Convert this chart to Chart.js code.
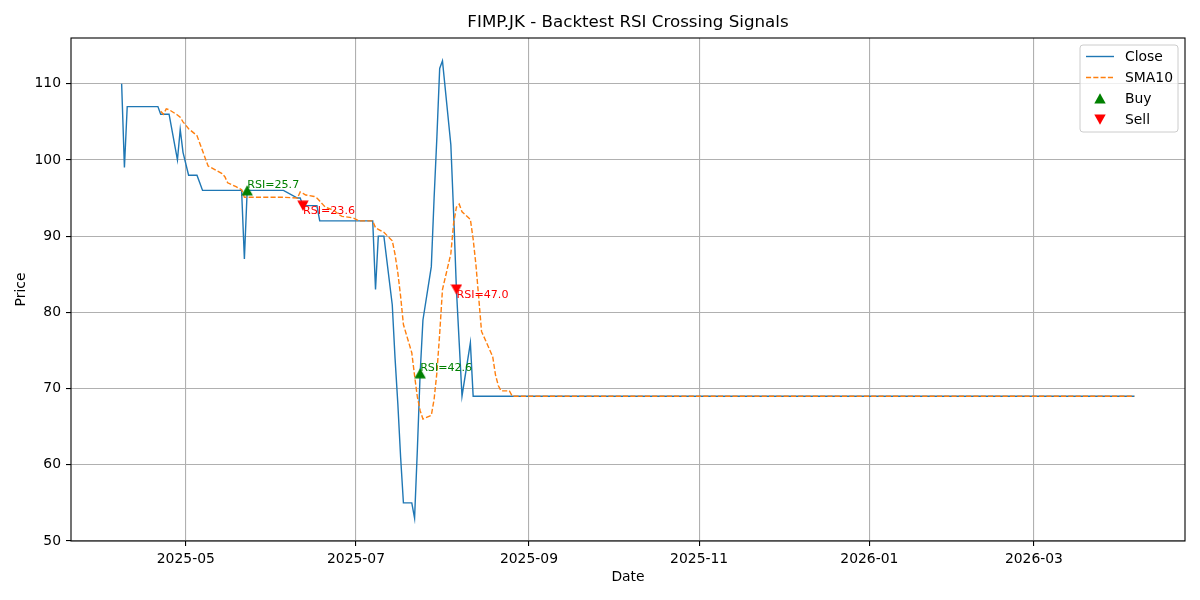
<!DOCTYPE html>
<html lang="en">
<head>
<meta charset="UTF-8">
<title>FIMP.JK - Backtest RSI Crossing Signals</title>
<script src="https://cdn.jsdelivr.net/npm/chart.js"></script>
<style>
  html, body { margin: 0; padding: 0; background: #fff; }
  #wrap { width: 1200px; height: 600px; }
</style>
</head>
<body>
<div id="wrap"><canvas id="rsiChart" width="1200" height="600"></canvas></div>
<script>
// trading days (flat at 69 after late August up to the last bar)
const dates = [
  '2025-04-08','2025-04-09','2025-04-10','2025-04-11','2025-04-14','2025-04-15','2025-04-16','2025-04-17',
  '2025-04-21','2025-04-22','2025-04-23','2025-04-24','2025-04-25','2025-04-28','2025-04-29','2025-04-30',
  '2025-05-02','2025-05-05','2025-05-06','2025-05-07','2025-05-08','2025-05-09','2025-05-14','2025-05-15',
  '2025-05-16','2025-05-19','2025-05-20','2025-05-21','2025-05-22','2025-05-23','2025-05-26','2025-05-27',
  '2025-05-28','2025-06-02','2025-06-03','2025-06-04','2025-06-05','2025-06-10','2025-06-11','2025-06-12',
  '2025-06-13','2025-06-16','2025-06-17','2025-06-18','2025-06-19','2025-06-20','2025-06-23','2025-06-24',
  '2025-06-25','2025-06-26','2025-06-30','2025-07-01','2025-07-02','2025-07-03','2025-07-04','2025-07-07',
  '2025-07-08','2025-07-09','2025-07-10','2025-07-11','2025-07-14','2025-07-15','2025-07-16','2025-07-17',
  '2025-07-18','2025-07-21','2025-07-22','2025-07-23','2025-07-24','2025-07-25','2025-07-28','2025-07-29',
  '2025-07-30','2025-07-31','2025-08-01','2025-08-04','2025-08-05','2025-08-06','2025-08-07','2025-08-08',
  '2025-08-11','2025-08-12','2025-08-13','2025-08-14','2025-08-15','2025-08-19','2025-08-20','2025-08-21',
  '2025-08-22','2025-08-25','2025-08-26','2025-08-27','2025-08-28','2025-08-29','2026-04-06'
];
const closePrices = [
  110, 99, 107, 107, 107, 107, 107, 107, 107, 106, 106, 106, 106, 100, 104, 101,
  98, 98, 97, 96, 96, 96, 96, 96, 96, 96, 96, 96, 87, 96, 96, 96,
  96, 96, 96, 96, 96, 95, 95, 94, 94, 94, 94, 92, 92, 92, 92, 92,
  92, 92, 92, 92, 92, 92, 92, 92, 83, 90, 90, 90, 81, 74, 68, 61,
  55, 55, 53, 62, 72, 79, 86, 95, 103, 112, 113, 102, 93, 83, 76, 69,
  76, 69, 69, 69, 69, 69, 69, 69, 69, 69, 69, 69, 69, 69, 69
];
const sma10 = [
  null, null, null, null, null, null, null, null, null, 106.4, 106.0, 106.7, 106.6, 105.9, 105.6, 105.0,
  104.1, 103.2, 102.2, 101.2, 100.2, 99.2, 98.2, 97.8, 97.0, 96.5, 96.3, 96.1, 95.1, 95.1, 95.1, 95.1,
  95.1, 95.1, 95.1, 95.1, 95.1, 95.0, 95.8, 95.6, 95.4, 95.2, 95.0, 94.6, 94.2, 93.8, 93.4, 93.1,
  92.8, 92.6, 92.4, 92.2, 92.0, 92.0, 92.0, 92.0, 91.1, 90.9, 90.7, 90.5, 89.4, 87.6, 85.2, 82.1,
  78.4, 74.7, 71.7, 68.9, 67.1, 66.0, 66.5, 68.6, 72.1, 77.2, 83.0, 87.7, 91.7, 93.8, 94.2, 93.2,
  92.2, 89.6, 86.2, 81.9, 77.5, 74.2, 71.8, 70.4, 69.7, 69.7, 69.0, 69.0, 69.0, 69.0, 69.0
];

const buyDates = ['2025-05-23', '2025-07-24'];
const buyPrices = [96, 72];
const buyRsi = [25.7, 42.6];

const sellDates = ['2025-06-12', '2025-08-06'];
const sellPrices = [94, 83];
const sellRsi = [23.6, 47.0];

const xTickDates = ['2025-05-01', '2025-07-01', '2025-09-01', '2025-11-01', '2026-01-01', '2026-03-01'];
const yTicks = [50, 60, 70, 80, 90, 100, 110];

const FONT = '"DejaVu Sans", "Liberation Sans", sans-serif';

function toDay(s) {
  return Date.UTC(+s.slice(0, 4), +s.slice(5, 7) - 1, +s.slice(8, 10)) / 86400000;
}
function dayLabel(v) {
  const d = new Date(Math.round(v) * 86400000);
  return d.getUTCFullYear() + '-' + String(d.getUTCMonth() + 1).padStart(2, '0');
}

// matplotlib style margins (5%) on the x axis
const xFirst = toDay(dates[0]);
const xLast = toDay(dates[dates.length - 1]);
const xPad = (xLast - xFirst) * 0.05;

function triangleMarker(color, up) {
  const c = document.createElement('canvas');
  c.width = 12; c.height = 11;
  const g = c.getContext('2d');
  g.fillStyle = color;
  g.beginPath();
  if (up) {
    g.moveTo(6, 0.3); g.lineTo(11.7, 10.5); g.lineTo(0.3, 10.5);
  } else {
    g.moveTo(0.3, 0.5); g.lineTo(11.7, 0.5); g.lineTo(6, 10.7);
  }
  g.closePath();
  g.fill();
  return c;
}
const buyMarker = triangleMarker('#008000', true);
const sellMarker = triangleMarker('#ff0000', false);

// title, frame, RSI labels and the legend box
const decorations = {
  id: 'decorations',
  afterDatasetsDraw(chart) {
    const {ctx, chartArea: a, scales: {x, y}} = chart;
    ctx.save();
    // RSI texts
    ctx.font = '11.1px ' + FONT;
    ctx.textAlign = 'left';
    ctx.textBaseline = 'bottom';
    ctx.fillStyle = '#008000';
    buyDates.forEach((d, i) => {
      ctx.fillText('RSI=' + buyRsi[i].toFixed(1), x.getPixelForValue(toDay(d)), y.getPixelForValue(buyPrices[i]));
    });
    ctx.textBaseline = 'top';
    ctx.fillStyle = '#ff0000';
    sellDates.forEach((d, i) => {
      ctx.fillText('RSI=' + sellRsi[i].toFixed(1), x.getPixelForValue(toDay(d)), y.getPixelForValue(sellPrices[i]));
    });

    // axes frame
    ctx.strokeStyle = '#000';
    ctx.lineWidth = 1.1;
    ctx.strokeRect(a.left, a.top, a.right - a.left, a.bottom - a.top);

    // title
    ctx.fillStyle = '#000';
    ctx.font = '16.7px ' + FONT;
    ctx.textAlign = 'center';
    ctx.textBaseline = 'middle';
    ctx.fillText('FIMP.JK - Backtest RSI Crossing Signals', (a.left + a.right) / 2, 23);

    // legend
    const bx = a.right - 105, by = a.top + 7, bw = 98, bh = 87;
    ctx.beginPath();
    ctx.roundRect(bx, by, bw, bh, 3);
    ctx.fillStyle = 'rgba(255,255,255,0.8)';
    ctx.fill();
    ctx.strokeStyle = '#cccccc';
    ctx.lineWidth = 1;
    ctx.stroke();
    const rows = [
      {label: 'Close', line: '#1f77b4', dash: []},
      {label: 'SMA10', line: '#ff7f0e', dash: [5.1, 2.2]},
      {label: 'Buy', marker: buyMarker},
      {label: 'Sell', marker: sellMarker}
    ];
    ctx.font = '13.9px ' + FONT;
    ctx.textAlign = 'left';
    ctx.textBaseline = 'middle';
    rows.forEach((r, i) => {
      const ry = by + 11.5 + i * 21;
      if (r.line) {
        ctx.beginPath();
        ctx.setLineDash(r.dash);
        ctx.strokeStyle = r.line;
        ctx.lineWidth = 1.4;
        ctx.moveTo(bx + 6, ry);
        ctx.lineTo(bx + 34, ry);
        ctx.stroke();
        ctx.setLineDash([]);
      } else {
        ctx.drawImage(r.marker, bx + 20 - 6, ry - 5.5);
      }
      ctx.fillStyle = '#000';
      ctx.fillText(r.label, bx + 45, ry + 0.5);
    });
    ctx.restore();
  }
};

const ctx = document.getElementById('rsiChart').getContext('2d');
new Chart(ctx, {
  type: 'line',
  data: {
    datasets: [
      {
        label: 'Close',
        data: dates.map((d, i) => ({x: toDay(d), y: closePrices[i]})),
        borderColor: '#1f77b4',
        borderWidth: 1.4,
        pointRadius: 0,
        tension: 0,
        order: 3
      },
      {
        label: 'SMA10',
        data: dates.map((d, i) => ({x: toDay(d), y: sma10[i]})),
        borderColor: '#ff7f0e',
        borderWidth: 1.4,
        borderDash: [5.1, 2.2],
        pointRadius: 0,
        tension: 0,
        order: 2
      },
      {
        label: 'Buy',
        data: buyDates.map((d, i) => ({x: toDay(d), y: buyPrices[i]})),
        showLine: false,
        pointStyle: buyMarker,
        pointRadius: 6,
        order: 1
      },
      {
        label: 'Sell',
        data: sellDates.map((d, i) => ({x: toDay(d), y: sellPrices[i]})),
        showLine: false,
        pointStyle: sellMarker,
        pointRadius: 6,
        order: 0
      }
    ]
  },
  options: {
    responsive: false,
    animation: false,
    layout: { padding: { top: 38, right: 15, left: 0, bottom: 0 } },
    plugins: {
      legend: { display: false },
      tooltip: { enabled: false },
      title: { display: false }
    },
    scales: {
      x: {
        type: 'linear',
        min: xFirst - xPad,
        max: xLast + xPad,
        afterBuildTicks: axis => { axis.ticks = xTickDates.map(d => ({value: toDay(d)})); },
        afterFit: axis => { axis.height = 59; },
        ticks: {
          autoSkip: false,
          maxRotation: 0,
          padding: 5,
          color: '#000',
          font: { family: FONT, size: 13.9 },
          callback: v => dayLabel(v)
        },
        grid: { color: '#b0b0b0', lineWidth: 1.1, tickLength: 5, tickColor: '#000', tickWidth: 1.1 },
        border: { display: false },
        title: {
          display: true,
          text: 'Date',
          color: '#000',
          font: { family: FONT, size: 13.9 },
          padding: { top: 0, bottom: 14 }
        }
      },
      y: {
        min: 50,
        max: 116,
        afterBuildTicks: axis => { axis.ticks = yTicks.map(v => ({value: v})); },
        afterFit: axis => { axis.width = 71; },
        ticks: {
          autoSkip: false,
          padding: 5,
          color: '#000',
          font: { family: FONT, size: 13.9 }
        },
        grid: { color: '#b0b0b0', lineWidth: 1.1, tickLength: 5, tickColor: '#000', tickWidth: 1.1 },
        border: { display: false },
        title: {
          display: true,
          text: 'Price',
          color: '#000',
          font: { family: FONT, size: 13.9 },
          padding: { top: 13, bottom: 0 }
        }
      }
    }
  },
  plugins: [decorations]
});
</script>
</body>
</html>
